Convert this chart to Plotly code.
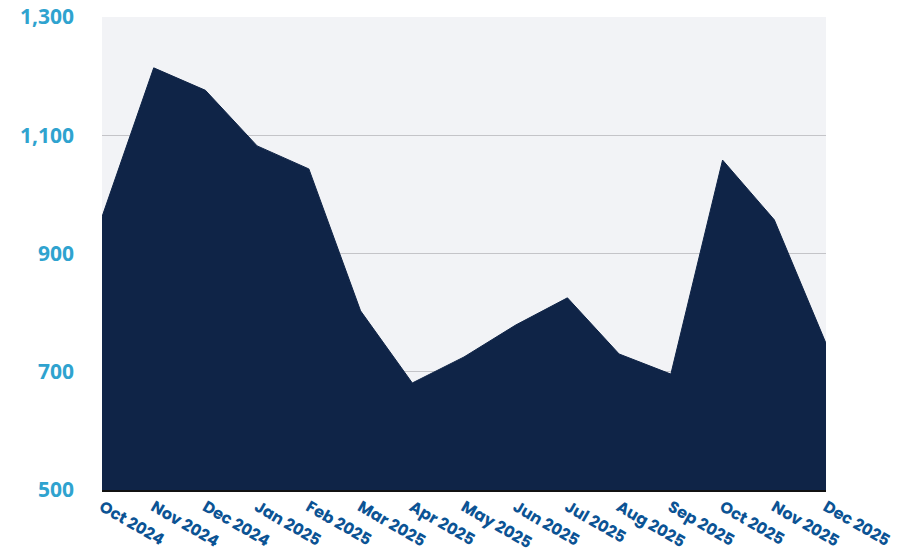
import plotly.graph_objects as go

months = ["Oct 2024", "Nov 2024", "Dec 2024", "Jan 2025", "Feb 2025", "Mar 2025", "Apr 2025",
          "May 2025", "Jun 2025", "Jul 2025", "Aug 2025", "Sep 2025", "Oct 2025", "Nov 2025", "Dec 2025"]
values = [962, 1214, 1176, 1082, 1043, 803, 681, 725, 779, 825, 730, 696, 1058, 957, 748]
y_ticks = [500, 700, 900, 1100, 1300]
y_tick_labels = ["500", "700", "900", "1,100", "1,300"]

fig = go.Figure()
fig.add_trace(go.Scatter(
    x=months, y=values, mode="lines", fill="tozeroy",
    line=dict(color="#0f2447", width=1), fillcolor="#0f2447",
    hoverinfo="x+y", showlegend=False,
))

fig.update_layout(
    width=902, height=548,
    margin=dict(l=102, r=76, t=17, b=58),
    paper_bgcolor="white", plot_bgcolor="#f2f3f6",
    xaxis=dict(
        type="category", range=[0, len(months) - 1], automargin=False,
        showgrid=False, tickangle=30,
        tickfont=dict(family="Poppins, Lato, sans-serif", size=16, color="#0b5394", weight="bold"),
        showline=True, linecolor="#111111", linewidth=1.5, ticks="",
    ),
    yaxis=dict(
        range=[500, 1300], tickvals=y_ticks, ticktext=y_tick_labels, automargin=False,
        showgrid=True, gridcolor="#c4c4c8", gridwidth=1, zeroline=False,
        tickfont=dict(family="Open Sans, sans-serif", size=21, color="#2fa3cf", weight="bold"),
        ticklabelstandoff=27,
    ),
)

# remove the browser's default 8px body margin so the figure fills the window
fig.write_html(
    "out.html",
    config={"displayModeBar": False},
    post_script="document.body.style.margin='0';document.body.style.overflow='hidden';",
)
